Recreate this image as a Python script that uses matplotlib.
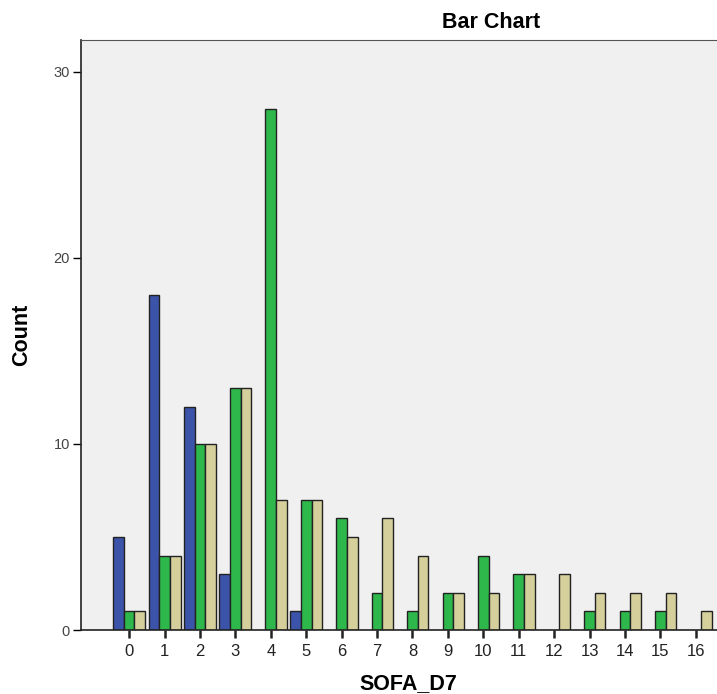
import numpy as np
import matplotlib
matplotlib.use('Agg')
import matplotlib.pyplot as plt

plt.rcParams['font.family'] = ['Liberation Sans', 'DejaVu Sans']

# SOFA_D7 categories and counts for the three groups
sofa = list(range(17))
blue_counts = [5, 18, 12, 3, 0, 1, 0, 0, 0, 0, 0, 0, 0, 0, 0, 0, 0]
green_counts = [1, 4, 10, 13, 28, 7, 6, 2, 1, 2, 4, 3, 0, 1, 1, 1, 0]
khaki_counts = [1, 4, 10, 13, 7, 7, 5, 6, 4, 2, 2, 3, 3, 2, 2, 2, 1]

fig = plt.figure(figsize=(7.17, 6.94), dpi=100)
ax = fig.add_axes([81/717, 64/694, 1 - 81/717, 590/694])
ax.set_facecolor('#f0f0f0')

x = np.array(sofa)
w = 0.3
# skip zero-height bars so no outline shows on the axis
for off, vals, col in [(-w, blue_counts, '#3b53a8'),
                       (0, green_counts, '#2eb84b'),
                       (w, khaki_counts, '#d5cf9c')]:
    vals = np.array(vals)
    m = vals > 0
    ax.bar(x[m] + off, vals[m], width=w, color=col, edgecolor='#222222', linewidth=1)

ax.set_xlim(-1.36, 16.6)
ax.set_ylim(0, 31.7)
ax.set_xticks(sofa)
ax.set_yticks([0, 10, 20, 30])
ax.tick_params(axis='x', direction='out', length=6, width=1.8, labelsize=12, colors='#222222', pad=4)
ax.tick_params(axis='y', direction='out', length=6, width=1, labelsize=10.5, labelcolor='#444444', pad=2)
for s in ['left', 'bottom']:
    ax.spines[s].set_linewidth(1.2)
    ax.spines[s].set_color('#222222')
ax.spines['top'].set_color('#555555')
ax.spines['right'].set_visible(False)

fig.text(491/717, 1 - 22/694, 'Bar Chart', ha='center', va='center', fontsize=15.5, fontweight='bold')
fig.text(408/717, 1 - 684/694, 'SOFA_D7', ha='center', va='center', fontsize=15.5, fontweight='bold')
fig.text(22/717, 1 - 335/694, 'Count', ha='center', va='center', rotation=90, fontsize=15.5, fontweight='bold')

fig.savefig('out.png', dpi=100)
